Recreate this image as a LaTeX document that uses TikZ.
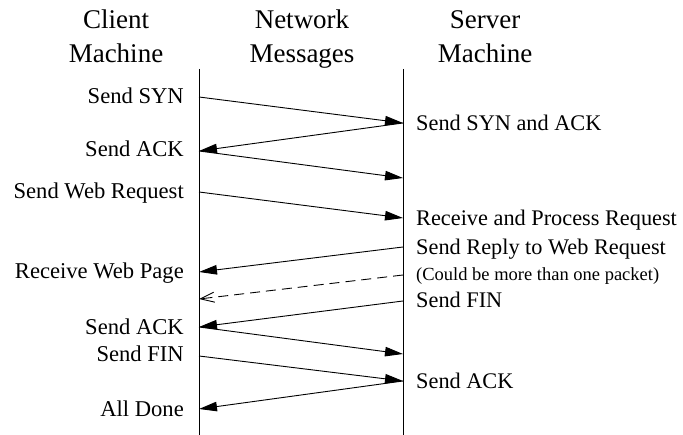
\documentclass[tikz,border=0pt]{standalone}
\usepackage{fontspec}
\setmainfont{Liberation Serif}
\usetikzlibrary{arrows.meta}
\begin{document}
\begin{tikzpicture}[x=1pt,y=-1pt,
  head/.style={font=\fontsize{27}{34}\selectfont, align=center, anchor=base, inner sep=0pt},
  clab/.style={font=\fontsize{22.6}{26}\selectfont, anchor=base east, inner sep=0pt},
  slab/.style={font=\fontsize{22.3}{26}\selectfont, anchor=base west, inner sep=0pt},
  small/.style={font=\fontsize{18.5}{22}\selectfont, anchor=base west, inner sep=0pt},
  life/.style={line width=0.9pt},
  msg/.style={line width=0.9pt, -{Triangle[length=18pt,width=9.5pt]}},
  dmsg/.style={line width=0.9pt, dash pattern=on 10pt off 6pt, -{Straight Barb[length=14pt,width=10pt]}}]
\useasboundingbox (0,0) rectangle (683,435);
% headers
\node[head] (hc) at (116,63) {Client\\Machine};
\node[head] (hn) at (302,63) {Network\\Messages};
\node[head] (hs) at (485,63) {Server\\Machine};
% lifelines
\coordinate (ct) at (199,69);
\coordinate (cb) at (199,435);
\coordinate (st) at (403,69);
\coordinate (sb) at (403,435);
\draw[life] (ct) -- (cb);
\draw[life] (st) -- (sb);
% endpoints
\coordinate (c1) at (199,97);
\coordinate (s1) at (403,123);
\coordinate (c2) at (199,151);
\coordinate (s2) at (403,178);
\coordinate (c3) at (199,192);
\coordinate (s3) at (403,218);
\coordinate (s4) at (403,247);
\coordinate (c4) at (199,272);
\coordinate (s5) at (403,275);
\coordinate (c5) at (199,299);
\coordinate (s6) at (403,301);
\coordinate (c6) at (199,327);
\coordinate (s7) at (403,354);
\coordinate (c7) at (199,356);
\coordinate (s8) at (403,381);
\coordinate (c8) at (199,409);
% messages
\draw[msg] (c1) -- (s1);
\draw[msg] (s1) -- (c2);
\draw[msg] (c2) -- (s2);
\draw[msg] (c3) -- (s3);
\draw[msg] (s4) -- (c4);
\draw[dmsg] (s5) -- (c5);
\draw[msg] (s6) -- (c6);
\draw[msg] (c6) -- (s7);
\draw[msg] (c7) -- (s8);
\draw[msg] (s8) -- (c8);
% client labels
\node[clab] (l1) at (184,104) {Send SYN};
\node[clab] (l2) at (184,157) {Send ACK};
\node[clab] (l3) at (184,199) {Send Web Request};
\node[clab] (l4) at (184,279) {Receive Web Page};
\node[clab] (l5) at (184,335) {Send ACK};
\node[clab] (l6) at (184,362) {Send FIN};
\node[clab] (l7) at (184,417) {All Done};
% server labels
\node[slab] (r1) at (416,131) {Send SYN and ACK};
\node[slab] (r2) at (416,226) {Receive and Process Request};
\node[slab] (r3) at (416,255) {Send Reply to Web Request};
\node[small] (r4) at (416,281) {(Could be more than one packet)};
\node[slab] (r5) at (416,308) {Send FIN};
\node[slab] (r6) at (416,389) {Send ACK};
\end{tikzpicture}
\end{document}
